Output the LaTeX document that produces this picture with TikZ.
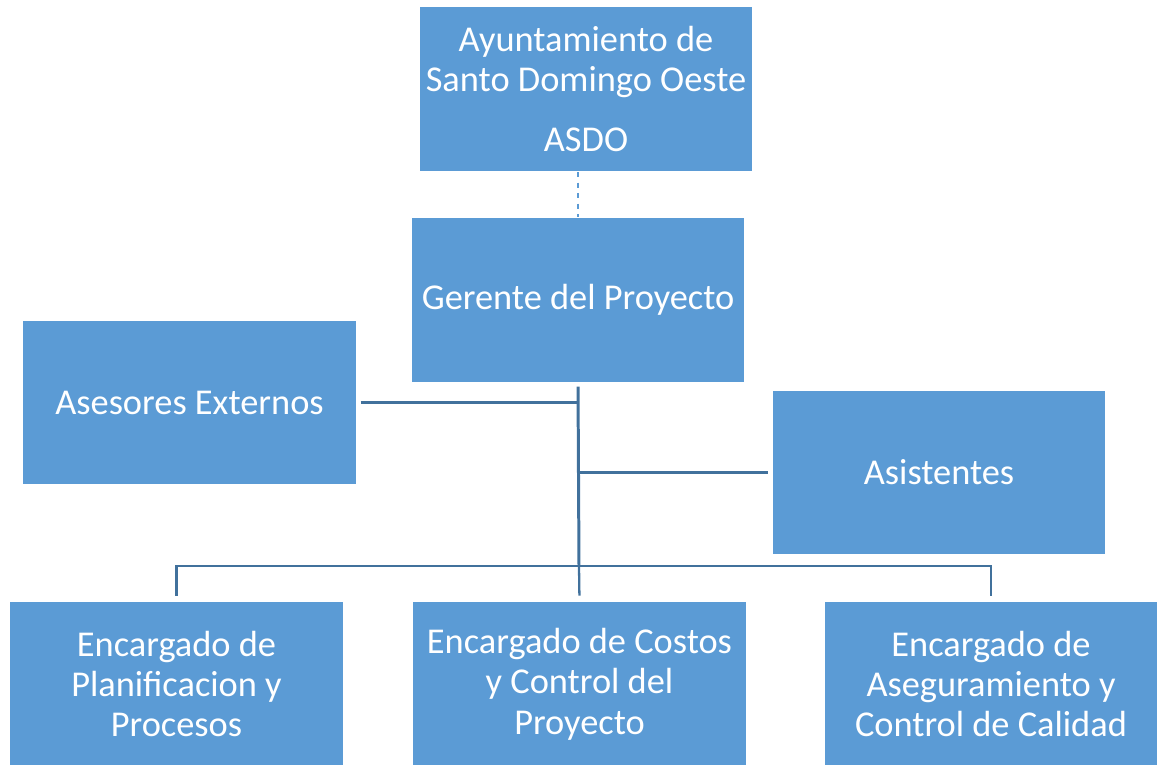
\documentclass[tikz,border=0pt]{standalone}
\usepackage{fontspec}
\setmainfont{Carlito}
\usepackage{tikz}
\usetikzlibrary{arrows}
\usetikzlibrary{positioning}

\definecolor{boxblue}{HTML}{5B9BD5}
\definecolor{linkblue}{HTML}{41719C}

\tikzset{
  orgbox/.style={draw=white, line width=0.6pt, fill=boxblue, text=white,
    minimum width=6.68cm, minimum height=3.3cm, align=center,
    font=\fontsize{20.7}{23}\selectfont, inner sep=0pt},
  link/.style={draw=linkblue, line width=1.3pt},
}

\begin{document}
\begin{tikzpicture}
\useasboundingbox (0,0) rectangle (23.14,-15.3);
\node[orgbox] at (11.72,-1.78) (asdo) {Ayuntamiento de\\Santo Domingo Oeste\\[0.4cm]ASDO};
\node[orgbox] at (11.56,-6.0) (ger) {Gerente del Proyecto};
\node[orgbox] at (3.79,-8.05) (ase) {Asesores Externos};
\node[orgbox] at (18.78,-9.45) (asi) {Asistentes};
\node[orgbox] at (3.53,-13.68) (pla) {Encargado de\\Planificacion y\\Procesos};
\node[orgbox] at (11.59,-13.68) (cos) {Encargado de Costos\\y Control del\\Proyecto};
\node[orgbox] at (19.82,-13.68) (cal) {Encargado de\\Aseguramiento y\\Control de Calidad};
\coordinate (bus) at (11.58,-11.32);
\draw[boxblue, dashed, line width=0.8pt] (asdo.south -| ger.north) -- (ger.north);
\draw[link, line width=1.7pt, shorten <=2pt] (ger.south) -- (bus);
\draw[link, shorten >=3pt] (bus) -- (cos.north);
\draw[link, shorten <=2pt] (ase.east) -- (ase.east -| ger.south);
\draw[link, shorten <=2pt] (asi.west) -- (asi.west -| ger.south);
\draw[link, shorten <=3pt, shorten >=3pt] (pla.north) |- (bus) -| (cal.north);
\end{tikzpicture}
\end{document}
